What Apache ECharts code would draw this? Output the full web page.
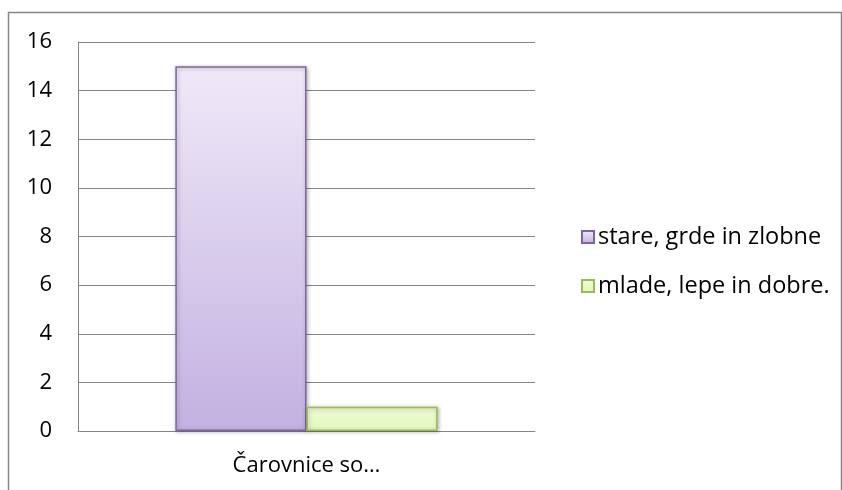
<!DOCTYPE html>
<html><head><meta charset="utf-8">
<script src="https://cdn.jsdelivr.net/npm/echarts@6/dist/echarts.min.js"></script>
<style>html,body{margin:0;padding:0;background:#fff}#c{width:842px;height:490px}</style>
</head><body><div id="c"></div>
<script>
const categories = ['Čarovnice so…'];
const seriesNames = ['stare, grde in zlobne', 'mlade, lepe in dobre.'];
const valuesOld = [15];
const valuesYoung = [1];
const yTicks = [0, 2, 4, 6, 8, 10, 12, 14, 16];

const chart = echarts.init(document.getElementById('c'));
const font = '"Open Sans", "Noto Sans", sans-serif';
chart.setOption({
  animation: false,
  graphic: [{
    type: 'rect', shape: {x: 8.5, y: 12.5, width: 833, height: 500},
    style: {fill: 'none', stroke: '#868686', lineWidth: 1.5}, silent: true
  }],
  grid: {left: 78, right: 307, top: 42, bottom: 59},
  legend: {
    orient: 'vertical', left: 576, top: 220, itemGap: 25,
    itemWidth: 12, itemHeight: 12, icon: 'rect',
    textStyle: {fontFamily: font, fontSize: 23.5, lineHeight: 24, color: '#000', padding: [0, 0, 0, -1]},
    data: seriesNames
  },
  xAxis: {
    type: 'category', data: categories,
    axisLine: {lineStyle: {color: '#868686', width: 1}},
    axisTick: {show: false},
    axisLabel: {fontFamily: font, fontSize: 22, color: '#000', margin: 24}
  },
  yAxis: {
    type: 'value', min: yTicks[0], max: yTicks[yTicks.length - 1], interval: 2,
    axisLine: {show: true, lineStyle: {color: '#868686', width: 1}},
    axisTick: {show: false},
    splitLine: {lineStyle: {color: '#868686', width: 1}},
    axisLabel: {fontFamily: font, fontSize: 22, color: '#000', margin: 26}
  },
  series: [{
    name: seriesNames[0], type: 'bar', data: valuesOld, barWidth: '28.7%', barGap: '0%',
    itemStyle: {
      color: new echarts.graphic.LinearGradient(0, 0, 0, 1, [
        {offset: 0, color: '#efe9f8'}, {offset: 1, color: '#c3b1e1'}]),
      borderColor: '#8064a2', borderWidth: 1.5,
      shadowColor: 'rgba(0,0,0,0.3)', shadowBlur: 4, shadowOffsetX: 1, shadowOffsetY: 1
    }
  }, {
    name: seriesNames[1], type: 'bar', data: valuesYoung, barWidth: '28.7%',
    itemStyle: {
      color: new echarts.graphic.LinearGradient(0, 0, 0, 1, [
        {offset: 0, color: '#eefcd6'}, {offset: 1, color: '#e2f8bb'}]),
      borderColor: '#9bbb59', borderWidth: 1.5,
      shadowColor: 'rgba(0,0,0,0.3)', shadowBlur: 4, shadowOffsetX: 1, shadowOffsetY: 1
    }
  }]
});
</script></body></html>
